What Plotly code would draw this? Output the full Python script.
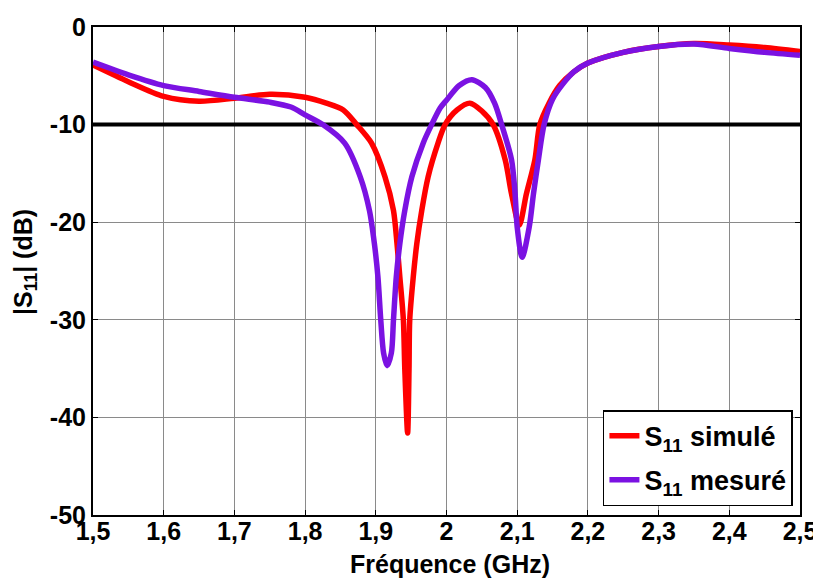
import plotly.graph_objects as go

# Simulated S11 (red)
freq_sim = [1.50, 1.55, 1.60, 1.65, 1.70, 1.75, 1.80, 1.83, 1.854, 1.873, 1.894, 1.913, 1.925, 1.930,
            1.934, 1.939, 1.941, 1.945, 1.947, 1.948, 1.953, 1.958, 1.965, 1.974, 1.988, 1.998, 2.015,
            2.033, 2.050, 2.066, 2.083, 2.092, 2.103, 2.113, 2.125, 2.132, 2.145, 2.16, 2.18, 2.20,
            2.25, 2.30, 2.35, 2.40, 2.45, 2.50]
s11_sim = [-3.9, -5.6, -7.1, -7.6, -7.3, -6.9, -7.2, -7.8, -8.5, -10.0, -11.9, -15.35, -18.8, -22.2,
           -25.6, -30.0, -35.0, -41.6, -35.0, -30.0, -25.6, -22.2, -18.8, -15.35, -11.9, -10.0, -8.5,
           -7.8, -8.6, -10.0, -13.6, -17.1, -20.3, -17.1, -13.6, -10.0, -7.8, -6.0, -4.6, -3.7,
           -2.6, -2.0, -1.7, -1.85, -2.1, -2.5]

# Measured S11 (purple)
freq_mes = [1.50, 1.55, 1.60, 1.65, 1.70, 1.75, 1.78, 1.80, 1.825, 1.856, 1.878, 1.891, 1.898, 1.903,
            1.907, 1.911, 1.916, 1.922, 1.925, 1.929, 1.934, 1.941, 1.951, 1.967, 1.979, 1.991, 2.00,
            2.018, 2.036, 2.055, 2.068, 2.078, 2.092, 2.097, 2.100, 2.107, 2.117, 2.123, 2.130, 2.138,
            2.15, 2.165, 2.18, 2.20, 2.25, 2.30, 2.35, 2.40, 2.45, 2.50]
s11_mes = [-3.6, -4.9, -6.0, -6.6, -7.2, -7.7, -8.2, -9.0, -10.0, -11.9, -15.35, -18.8, -22.2, -25.6,
           -30.0, -33.4, -34.7, -33.4, -30.0, -25.6, -22.2, -18.8, -15.35, -11.9, -10.0, -8.3, -7.5,
           -6.0, -5.4, -6.2, -7.8, -10.0, -13.6, -17.1, -20.5, -23.6, -20.5, -17.1, -13.6, -10.0,
           -7.4, -5.8, -4.6, -3.7, -2.6, -2.0, -1.75, -2.2, -2.6, -2.9]

threshold = -10

x_tick_vals = [1.5, 1.6, 1.7, 1.8, 1.9, 2.0, 2.1, 2.2, 2.3, 2.4, 2.5]
x_tick_text = ["1,5", "1,6", "1,7", "1,8", "1,9", "2", "2,1", "2,2", "2,3", "2,4", "2,5"]
y_tick_vals = [0, -10, -20, -30, -40, -50]
y_tick_text = ["0", "-10", "-20", "-30", "-40", "-50"]

FONT = "Liberation Sans, Arial, sans-serif"

fig = go.Figure()
fig.add_trace(go.Scatter(x=[1.5, 2.5], y=[threshold, threshold], mode="lines",
                         line=dict(color="black", width=4), showlegend=False, hoverinfo="skip"))
fig.add_trace(go.Scatter(x=freq_sim, y=s11_sim, mode="lines", name="S<sub>11</sub> simulé",
                         legendgroup="sim",
                         line=dict(color="#FF0000", width=5.5, shape="spline", smoothing=0.8)))
fig.add_trace(go.Scatter(x=freq_mes, y=s11_mes, mode="lines", name="S<sub>11</sub> mesuré",
                         legendgroup="mes",
                         line=dict(color="#7B12E2", width=5.5, shape="spline", smoothing=0.8)))

axis_common = dict(showline=True, linecolor="black", linewidth=2, mirror="ticks",
                   ticks="inside", ticklen=5, tickcolor="black", automargin=False,
                   showgrid=True, gridcolor="#8a8a8a", gridwidth=1, zeroline=False,
                   tickfont=dict(family=FONT, size=25, color="black", weight="bold"))

fig.update_xaxes(range=[1.5, 2.5], tickvals=x_tick_vals, ticktext=x_tick_text,
                 ticklabelstandoff=-7, **axis_common)
fig.update_yaxes(range=[-50, 0], tickvals=y_tick_vals, ticktext=y_tick_text,
                 ticklabelstandoff=0, **axis_common)

title_font = dict(family=FONT, size=25, color="black", weight="bold")
fig.add_annotation(text="Fréquence (GHz)", xref="paper", yref="paper", x=0.505, y=0,
                   xanchor="center", yanchor="middle", yshift=-49, showarrow=False,
                   font=title_font)
fig.add_annotation(text="|S<sub>11</sub>| (dB)", xref="paper", yref="paper", x=0, y=0.5,
                   xanchor="center", yanchor="middle", xshift=-68, yshift=9, textangle=-90,
                   showarrow=False, font=title_font)

# page body has an 8px margin, so the figure is offset by 8px
fig.update_layout(
    width=830, height=571,
    margin=dict(l=85, r=38, t=19, b=64),
    paper_bgcolor="white", plot_bgcolor="white",
    legend=dict(x=0.99, y=0.018, xanchor="right", yanchor="bottom",
                bgcolor="white", bordercolor="black", borderwidth=1.5,
                font=dict(family=FONT, size=27, color="black", weight="bold"),
                tracegroupgap=6),
    showlegend=True,
)

fig.write_html("out.html")
